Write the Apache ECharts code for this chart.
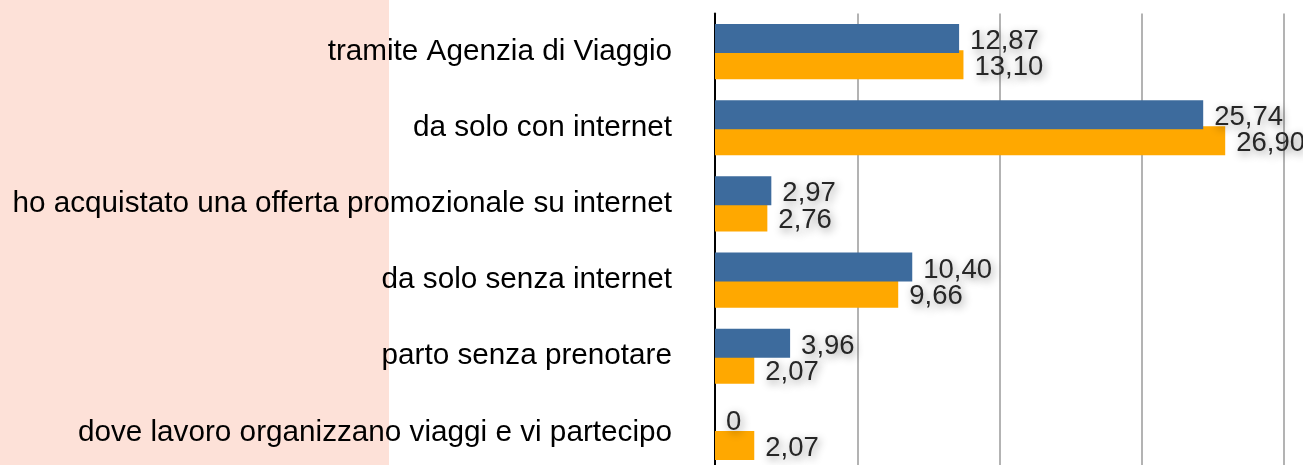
<!DOCTYPE html>
<html>
<head>
<meta charset="utf-8">
<script src="https://cdn.jsdelivr.net/npm/echarts@6/dist/echarts.min.js"></script>
<style>
html,body{margin:0;padding:0;background:#fff;}
#chart{width:1303px;height:465px;}
</style>
</head>
<body>
<div id="chart"></div>
<script>
const categories = [
  "tramite Agenzia di Viaggio",
  "da solo con internet",
  "ho acquistato una offerta promozionale su internet",
  "da solo senza internet",
  "parto senza prenotare",
  "dove lavoro organizzano viaggi e vi partecipo"
];
const seriesA = [12.87, 25.74, 2.97, 10.40, 3.96, 0];
const seriesB = [13.10, 26.90, 2.76, 9.66, 2.07, 2.07];
const seriesNames = ["Serie 1", "Serie 2"];
const axisMax = 30;
const axisInterval = 7.5;

function fmt(p) {
  const v = p.value;
  return v === 0 ? "0" : v.toFixed(2).replace(".", ",");
}
function labelStyle(dy) {
  return {
    show: true,
    position: "right",
    distance: 11,
    offset: [0, dy],
    formatter: fmt,
    fontFamily: "Liberation Sans",
    fontSize: 27.5,
    color: "#262626",
    textShadowColor: "rgba(0,0,0,0.45)",
    textShadowBlur: 8,
    textShadowOffsetX: 2,
    textShadowOffsetY: 3
  };
}

const chart = echarts.init(document.getElementById("chart"), null, {renderer: "canvas"});
chart.setOption({
  animation: false,
  backgroundColor: "#ffffff",
  graphic: [{
    type: "rect",
    left: 0, top: 0, z: -10,
    shape: {width: 389, height: 465},
    style: {fill: "#FDE1D8"}
  }],
  grid: {
    left: 715, width: 569, top: 13.5, height: 457,
    containLabel: false,
    outerBoundsMode: "none"
  },
  xAxis: {
    type: "value",
    min: 0, max: axisMax, interval: axisInterval,
    axisLine: {show: false},
    axisTick: {show: false},
    axisLabel: {show: false},
    splitLine: {show: true, lineStyle: {color: "#B3B3B3", width: 2}}
  },
  yAxis: {
    type: "category",
    inverse: true,
    data: categories,
    axisLine: {show: true, lineStyle: {color: "#000", width: 2}},
    axisTick: {show: false},
    axisLabel: {
      margin: 43,
      fontFamily: "Liberation Sans",
      fontSize: 29.7,
      color: "#000",
      padding: [14, 0, 0, 0]
    }
  },
  series: [
    {
      name: seriesNames[0], type: "bar", data: seriesA,
      barWidth: 29, barGap: "-10%", z: 3,
      itemStyle: {color: "#3D6B9D"},
      label: labelStyle(3)
    },
    {
      name: seriesNames[1], type: "bar", data: seriesB,
      barWidth: 29, z: 2,
      itemStyle: {color: "#FFA800"},
      label: labelStyle(3)
    }
  ]
});
</script>
</body>
</html>
